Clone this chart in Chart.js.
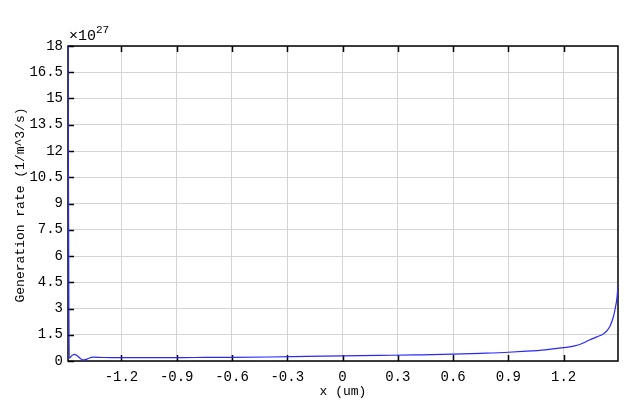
<!DOCTYPE html>
<html>
<head>
<meta charset="utf-8">
<script src="https://cdn.jsdelivr.net/npm/chart.js@4.4.0/dist/chart.umd.min.js"></script>
<style>
  html, body { margin: 0; padding: 0; background: #fff; }
  #wrap { width: 640px; height: 418px; position: relative; }
</style>
</head>
<body>
<div id="wrap"><canvas id="genChart"></canvas></div>
<script>
// values (y in units of 1e27)
const xValues = [-1.49, -1.483, -1.47, -1.456, -1.44, -1.42, -1.402, -1.38, -1.358, -1.3, -1.2, -1.0, -0.8, -0.6, -0.4, -0.2, 0, 0.2, 0.4, 0.6, 0.75, 0.9, 1.0, 1.1, 1.2, 1.26, 1.3, 1.34, 1.38, 1.42, 1.45, 1.47, 1.48, 1.49, 1.495];
const genRate = [18, 0.15, 0.3, 0.38, 0.3, 0.12, 0.06, 0.14, 0.22, 0.2, 0.19, 0.19, 0.2, 0.21, 0.23, 0.26, 0.29, 0.32, 0.35, 0.39, 0.44, 0.5, 0.56, 0.64, 0.76, 0.86, 1.0, 1.2, 1.38, 1.58, 1.96, 2.53, 3.0, 3.67, 4.34];
const xTicks = [-1.2, -0.9, -0.6, -0.3, 0, 0.3, 0.6, 0.9, 1.2];
const yTicks = [0, 1.5, 3, 4.5, 6, 7.5, 9, 10.5, 12, 13.5, 15, 16.5, 18];
const xRange = [-1.49, 1.495];
const yRange = [0, 18];
const xTitle = 'x (um)';
const yTitle = 'Generation rate (1/m^3/s)';
const yExponent = '27';

const FONT = '"Liberation Mono", "DejaVu Sans Mono", monospace';

// box + inward ticks go under the curve, texts on top
const frame = {
  id: 'frame',
  beforeDatasetsDraw(chart) {
    const { ctx, chartArea: a, scales } = chart;
    ctx.save();
    ctx.strokeStyle = '#000';
    ctx.lineWidth = 1.5;
    ctx.strokeRect(a.left, a.top, a.right - a.left, a.bottom - a.top);
    ctx.beginPath();
    xTicks.forEach((v) => {
      const px = Math.round(scales.x.getPixelForValue(v)) + 0.5;
      ctx.moveTo(px, a.bottom); ctx.lineTo(px, a.bottom - 6);
      ctx.moveTo(px, a.top); ctx.lineTo(px, a.top + 6);
    });
    yTicks.forEach((v) => {
      const py = Math.round(scales.y.getPixelForValue(v)) + 0.5;
      ctx.moveTo(a.left, py); ctx.lineTo(a.left + 6, py);
    });
    ctx.stroke();
    ctx.restore();
  },
  afterDraw(chart) {
    const { ctx, chartArea: a } = chart;
    ctx.save();
    ctx.fillStyle = '#000';
    ctx.font = `13px ${FONT}`;
    ctx.textAlign = 'center';
    ctx.textBaseline = 'middle';
    ctx.fillText(xTitle, (a.left + a.right) / 2, 392);
    ctx.save();
    ctx.translate(21, 205);
    ctx.rotate(-Math.PI / 2);
    ctx.fillText(yTitle, 0, 0);
    ctx.restore();

    // exponent label
    ctx.textAlign = 'left';
    ctx.textBaseline = 'alphabetic';
    ctx.font = `15px ${FONT}`;
    ctx.fillText('\u00d710', a.left + 1, a.top - 6);
    ctx.font = `11px ${FONT}`;
    ctx.fillText(yExponent, a.left + 28, a.top - 13);
    ctx.restore();
  }
};

new Chart(document.getElementById('genChart'), {
  type: 'line',
  data: {
    datasets: [{
      data: xValues.map((x, i) => ({ x, y: genRate[i] })),
      borderColor: 'rgb(40, 40, 255)',
      borderWidth: 1.2,
      pointRadius: 0,
      cubicInterpolationMode: 'monotone',
      fill: false,
    }],
  },
  options: {
    responsive: true,
    maintainAspectRatio: false,
    animation: false,
    events: [],
    layout: { padding: { top: 46, right: 22, left: 0, bottom: 0 } },
    plugins: { legend: { display: false }, tooltip: { enabled: false } },
    scales: {
      x: {
        type: 'linear',
        min: xRange[0],
        max: xRange[1],
        afterBuildTicks: (scale) => { scale.ticks = xTicks.map((value) => ({ value })); },
        afterFit: (scale) => { scale.height = 57; },
        border: { display: false },
        grid: { color: '#d4d4d4', lineWidth: 1, drawTicks: false },
        ticks: {
          padding: 8,
          color: '#000',
          font: { family: FONT, size: 14 },
          maxRotation: 0,
          callback: (v) => String(Math.round(v * 10) / 10),
        },
      },
      y: {
        min: yRange[0],
        max: yRange[1],
        afterBuildTicks: (scale) => { scale.ticks = yTicks.map((value) => ({ value })); },
        afterFit: (scale) => { scale.width = 68; },
        border: { display: false },
        grid: { color: '#d4d4d4', lineWidth: 1, drawTicks: false },
        ticks: {
          padding: 5,
          color: '#000',
          font: { family: FONT, size: 14 },
          callback: (v) => String(v),
        },
      },
    },
  },
  plugins: [frame],
});
</script>
</body>
</html>
